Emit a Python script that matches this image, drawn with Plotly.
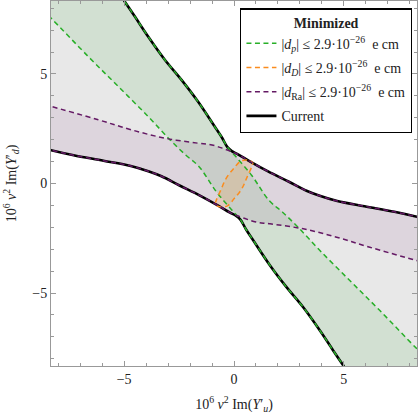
import plotly.graph_objects as go

# ---------------- data ----------------
# "Current" allowed region: upper-right and lower-left boundaries
current_upper_x = [-5.4, -4.99, -4.52, -3.91, -3.15, -2.39, -1.64, -0.88, -0.55, -0.3, -0.1, 0.2, 0.7, 1.55, 2.5, 3.3, 3.9, 4.7, 5.94, 7.3, 8.33, 9.0]
current_upper_y = [8.95, 8.33, 7.63, 6.71, 5.65, 4.73, 3.74, 2.6, 2.1, 1.66, 1.48, 1.32, 1.02, 0.55, 0.08, -0.33, -0.56, -0.8, -1.04, -1.29, -1.52, -1.7]
current_lower_x = [-9.0, -8.33, -7.3, -5.94, -4.7, -3.9, -3.3, -2.5, -1.55, -0.7, -0.2, 0.1, 0.3, 0.55, 0.88, 1.64, 2.39, 3.15, 3.91, 4.52, 4.99, 5.4]
current_lower_y = [1.7, 1.52, 1.29, 1.04, 0.8, 0.56, 0.33, -0.08, -0.55, -1.02, -1.32, -1.48, -1.66, -2.1, -2.6, -3.74, -4.73, -5.65, -6.71, -7.63, -8.33, -8.95]

# |d_p| band edges
dp_right_x = [-5.4, -4.99, -4.52, -3.91, -3.15, -2.39, -1.64, -0.88, -0.55, -0.3, 0.15, 0.8, 1.6, 2.2, 2.92, 3.91, 5.27, 6.64, 8.33, 9.0]
dp_right_y = [8.95, 8.33, 7.63, 6.71, 5.65, 4.73, 3.74, 2.6, 2.1, 1.66, 1.15, 0.38, -0.78, -1.3, -2.0, -3.06, -4.43, -5.8, -7.55, -8.2]
dp_left_x = [-9.0, -8.33, -6.64, -5.27, -3.91, -2.92, -2.2, -1.6, -0.8, -0.15, 0.3, 0.55, 0.88, 1.64, 2.39, 3.15, 3.91, 4.52, 4.99, 5.4]
dp_left_y = [8.2, 7.55, 5.8, 4.43, 3.06, 2.0, 1.3, 0.78, -0.38, -1.15, -1.66, -2.1, -2.6, -3.74, -4.73, -5.65, -6.71, -7.63, -8.33, -8.95]

# |d_Ra| band edges
dra_upper_x = [-9.0, -8.33, -6.18, -4.67, -3.15, -1.64, -1.0, -0.5, -0.1, 0.2, 0.7, 1.55, 2.5, 3.3, 3.9, 4.7, 5.94, 7.3, 8.33, 9.0]
dra_upper_y = [3.7, 3.52, 2.91, 2.45, 2.07, 1.84, 1.76, 1.6, 1.45, 1.32, 1.02, 0.55, 0.08, -0.33, -0.56, -0.8, -1.04, -1.29, -1.52, -1.7]
dra_lower_x = [-9.0, -8.33, -7.3, -5.94, -4.7, -3.9, -3.3, -2.5, -1.55, -0.7, -0.2, 0.1, 0.5, 1.0, 1.64, 3.15, 4.67, 6.18, 8.33, 9.0]
dra_lower_y = [1.7, 1.52, 1.29, 1.04, 0.8, 0.56, 0.33, -0.08, -0.55, -1.02, -1.32, -1.45, -1.6, -1.76, -1.84, -2.07, -2.45, -2.91, -3.52, -3.7]

# |d_D| closed contour
dd_x = [0.85, 0.6, 0.3, 0.0, -0.35, -0.6, -0.82, -0.85, -0.6, -0.3, 0.0, 0.35, 0.6, 0.82, 0.85]
dd_y = [0.95, 1.07, 1.02, 0.7, 0.25, -0.3, -0.8, -0.95, -1.07, -1.02, -0.7, -0.25, 0.3, 0.8, 0.95]

axis_range = [-8.33, 8.33]
major_ticks = [-5, 0, 5]
tick_labels = ["\u22125", "0", "5"]

legend_labels = {
    "dp": "|<i>d<sub>p</sub></i>| \u2264 2.9\u00b710<sup>\u221226</sup>  e cm",
    "dD": "|<i>d<sub>D</sub></i>| \u2264 2.9\u00b710<sup>\u221226</sup>  e cm",
    "dRa": "|<i>d</i><sub>Ra</sub>| \u2264 2.9\u00b710<sup>\u221226</sup>  e cm",
    "cur": "Current",
}

# ---------------- styles ----------------
GREEN = "rgb(40,175,40)"
ORANGE = "rgb(250,140,30)"
PURPLE = "rgb(100,25,100)"
FONT = "Liberation Serif"
DASH = "5px,3.5px"

fig = go.Figure()

# Current region fill (grey)
cur_poly_x = current_upper_x + [current_upper_x[-1]] + current_lower_x[::-1] + [current_lower_x[0]]
cur_poly_y = current_upper_y + [current_lower_y[-1]] + current_lower_y[::-1] + [current_upper_y[0]]
fig.add_trace(go.Scatter(x=cur_poly_x, y=cur_poly_y, fill="toself", mode="none",
                         fillcolor="rgba(0,0,0,0.09)", showlegend=False, hoverinfo="skip"))

# d_p band fill (green)
dp_poly_x = dp_right_x + [dp_right_x[-1]] + dp_left_x[::-1] + [dp_left_x[0]]
dp_poly_y = dp_right_y + [dp_left_y[-1]] + dp_left_y[::-1] + [dp_right_y[0]]
fig.add_trace(go.Scatter(x=dp_poly_x, y=dp_poly_y, fill="toself", mode="none",
                         fillcolor="rgba(20,160,20,0.10)", showlegend=False, hoverinfo="skip"))

# d_Ra band fill (purple)
fig.add_trace(go.Scatter(x=dra_upper_x + dra_lower_x[::-1], y=dra_upper_y + dra_lower_y[::-1],
                         fill="toself", mode="none",
                         fillcolor="rgba(110,20,110,0.09)", showlegend=False, hoverinfo="skip"))

# d_D fill (orange)
fig.add_trace(go.Scatter(x=dd_x, y=dd_y, fill="toself", mode="none",
                         fillcolor="rgba(255,140,30,0.16)", showlegend=False, hoverinfo="skip"))

# Current boundaries (black)
fig.add_trace(go.Scatter(x=current_upper_x, y=current_upper_y, mode="lines", line_shape="spline",
                         line=dict(color="black", width=2.6), showlegend=False, hoverinfo="skip"))
fig.add_trace(go.Scatter(x=current_lower_x, y=current_lower_y, mode="lines", line_shape="spline",
                         line=dict(color="black", width=2.6), showlegend=False, hoverinfo="skip"))

# dashed contours
fig.add_trace(go.Scatter(x=dp_right_x, y=dp_right_y, mode="lines", line_shape="spline",
                         line=dict(color=GREEN, width=1.5, dash=DASH),
                         name=legend_labels["dp"], legendrank=1, legendgroup="g1"))
fig.add_trace(go.Scatter(x=dp_left_x, y=dp_left_y, mode="lines", line_shape="spline",
                         line=dict(color=GREEN, width=1.5, dash=DASH), showlegend=False, legendgroup="g1"))
fig.add_trace(go.Scatter(x=dd_x, y=dd_y, mode="lines", line_shape="spline",
                         line=dict(color=ORANGE, width=1.5, dash=DASH),
                         name=legend_labels["dD"], legendrank=2, legendgroup="g2"))
fig.add_trace(go.Scatter(x=dra_upper_x, y=dra_upper_y, mode="lines", line_shape="spline",
                         line=dict(color=PURPLE, width=1.5, dash=DASH),
                         name=legend_labels["dRa"], legendrank=3, legendgroup="g3"))
fig.add_trace(go.Scatter(x=dra_lower_x, y=dra_lower_y, mode="lines", line_shape="spline",
                         line=dict(color=PURPLE, width=1.5, dash=DASH), showlegend=False, legendgroup="g3"))
# legend entry for Current
fig.add_trace(go.Scatter(x=[None], y=[None], mode="lines",
                         line=dict(color="black", width=2.6),
                         name=legend_labels["cur"], legendrank=4, legendgroup="g4"))

axis_common = dict(
    range=axis_range, showgrid=False, zeroline=False,
    showline=True, linecolor="#999999", linewidth=1, mirror="allticks",
    ticks="inside", ticklen=5, tickcolor="#999999", tickwidth=1,
    tickvals=major_ticks, ticktext=tick_labels,
    tickfont=dict(family=FONT, size=14, color="#222222"),
    minor=dict(dtick=1, tick0=0, ticks="inside", ticklen=3, tickcolor="#999999"),
)

fig.update_layout(
    width=419, height=419,
    margin=dict(l=51, r=2, t=1, b=53),
    paper_bgcolor="white", plot_bgcolor="white",
    font=dict(family=FONT, size=13, color="#222222"),
    xaxis=dict(**axis_common,
               title=dict(text="10<sup>6</sup> <i>v</i><sup>2</sup> Im(<i>Y</i>\u2032<sub><i>u</i></sub>)",
                          font=dict(family=FONT, size=14), standoff=13)),
    yaxis=dict(**axis_common,
               title=dict(text="10<sup>6</sup> <i>v</i><sup>2</sup> Im(<i>Y</i>\u2032<sub><i>d</i></sub>)",
                          font=dict(family=FONT, size=14), standoff=12)),
    legend=dict(
        x=0.987, y=0.98, xanchor="right", yanchor="top",
        bgcolor="white", bordercolor="black", borderwidth=1.2,
        font=dict(family=FONT, size=14, color="#222222"),
        title=dict(text="<b>Minimized</b>", side="top center", font=dict(family=FONT, size=14)),
        itemwidth=30, tracegroupgap=3,
    ),
)

fig.write_html(
    "out.html",
    config={"displayModeBar": False, "staticPlot": True},
    post_script="document.body.style.margin='0';document.body.style.padding='0';document.body.style.overflow='hidden';",
)
